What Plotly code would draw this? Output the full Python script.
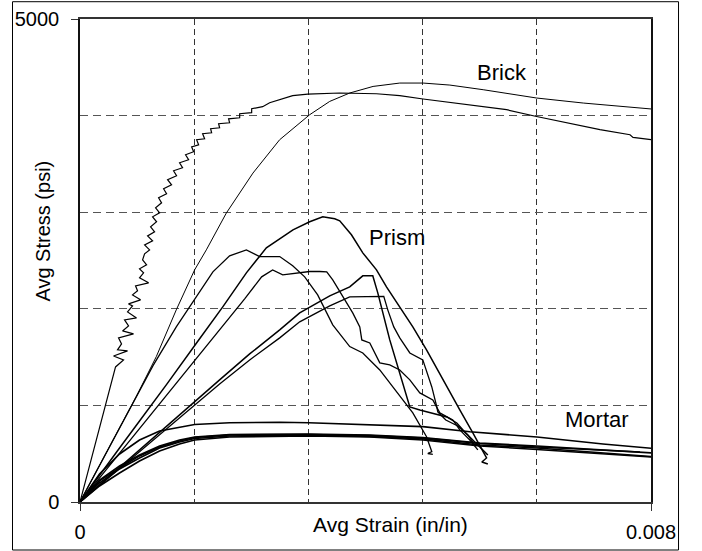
import plotly.graph_objects as go

# strain values are in units of 1e-3 in/in, stress in psi
brick1_strain = [0, 0.498, 0.610, 0.470, 0.666, 0.526, 0.582, 0.540, 0.750, 0.596, 0.680, 0.624, 0.792, 0.666,
                 0.736, 0.680, 0.848, 0.736, 0.806, 0.778, 0.961, 0.834, 0.891, 0.834, 0.933, 0.877, 0.905, 0.975,
                 0.905, 1.017, 0.947, 1.045, 0.989, 1.073, 1.017, 1.115, 1.059, 1.143, 1.101, 1.213, 1.171, 1.283,
                 1.227, 1.353, 1.311, 1.437, 1.395, 1.522, 1.479, 1.592, 1.564, 1.662, 1.634, 1.746, 1.718, 1.844,
                 1.830, 1.956, 1.942, 2.096, 2.082, 2.237, 2.237, 2.405, 2.405, 2.559, 2.657, 2.798, 2.980, 3.190,
                 3.639, 4.154, 4.480, 4.807, 5.182, 5.648, 5.977, 6.397, 6.818, 7.285, 7.706, 7.748, 8.010]
brick1_stress = [0, 1398, 1471, 1512, 1564, 1575, 1637, 1699, 1740, 1771, 1823, 1885, 1906, 1968,
                 2030, 2051, 2093, 2144, 2186, 2238, 2269, 2320, 2372, 2414, 2455, 2507, 2569, 2610,
                 2662, 2704, 2755, 2797, 2849, 2901, 2952, 2994, 3046, 3097, 3149, 3191, 3242, 3284,
                 3336, 3377, 3429, 3460, 3512, 3543, 3595, 3626, 3677, 3698, 3750, 3760, 3812, 3822,
                 3864, 3874, 3916, 3926, 3967, 3978, 4019, 4030, 4071, 4092, 4133, 4164, 4206, 4223,
                 4234, 4226, 4206, 4172, 4136, 4095, 4061, 3991, 3923, 3854, 3802, 3774, 3750]

brick2_strain = [0, 0.788, 1.069, 1.349, 1.606, 1.770, 2.050, 2.423, 2.797, 3.218, 3.499, 3.779, 4.106, 4.480,
                 4.807, 5.182, 5.649, 6.398, 7.051, 8.010]
brick2_stress = [0, 1091, 1505, 1989, 2403, 2610, 2991, 3405, 3750, 4009, 4147, 4234, 4302, 4337,
                 4337, 4316, 4268, 4182, 4130, 4068]

prismA_strain = [0, 0.273, 0.554, 0.834, 1.209, 1.630, 2.003, 2.331, 2.611, 2.984, 3.218, 3.401, 3.569, 3.639,
                 3.803, 3.962, 4.154, 4.294, 4.480, 4.663, 4.855, 5.083, 5.321, 5.504, 5.696, 5.630, 5.714]
prismA_stress = [0, 280, 559, 839, 1212, 1644, 2023, 2372, 2631, 2818, 2901, 2952, 2932, 2911,
                 2766, 2579, 2403, 2227, 2020, 1813, 1575, 1264, 953, 715, 456, 414, 394]

prismB_strain = [0, 0.273, 0.460, 0.740, 1.021, 1.349, 1.630, 1.862, 2.096, 2.331, 2.517, 2.798, 2.980, 3.148,
                 3.330, 3.541, 3.779, 3.962, 4.200, 4.382, 4.663, 4.855, 4.929, 4.873, 4.943]
prismB_stress = [0, 373, 642, 1026, 1409, 1813, 2124, 2383, 2548, 2610, 2541, 2541, 2445, 2331,
                 2144, 1834, 1609, 1543, 1367, 1194, 922, 676, 521, 502, 492]

prismD_strain = [0, 0.273, 0.694, 1.115, 1.536, 1.956, 2.307, 2.545, 2.699, 2.840, 3.078, 3.218, 3.359, 3.457,
                 3.541, 3.681, 3.821, 3.920, 3.948, 4.060, 4.200, 4.340, 4.480, 4.621, 4.761, 4.943, 5.041,
                 5.223, 5.321, 5.462, 5.574]
prismD_stress = [0, 249, 632, 1015, 1398, 1782, 2103, 2331, 2403, 2352, 2372, 2386, 2386, 2383,
                 2300, 2124, 1958, 1813, 1678, 1647, 1440, 1419, 1367, 1264, 1129, 1057, 922,
                 849, 746, 642, 539]

prismE_strain = [0, 0.414, 0.834, 1.255, 1.606, 1.956, 2.377, 2.798, 3.078, 3.499, 3.779, 3.962, 4.102, 4.172,
                 4.340, 4.480, 4.621, 4.761, 5.139, 5.279, 5.391, 5.602, 5.714]
prismE_stress = [0, 269, 539, 808, 1036, 1264, 1533, 1782, 1958, 2134, 2227, 2341, 2341, 2165,
                 1678, 1336, 984, 953, 881, 818, 725, 570, 487]

prismF_strain = [0, 0.414, 0.834, 1.255, 1.606, 1.956, 2.377, 2.798, 3.078, 3.499, 3.779, 4.060, 4.256, 4.312,
                 4.396, 4.480, 4.621, 4.803, 4.859, 4.929, 4.999, 5.013, 5.125, 5.293, 5.434, 5.532]
prismF_stress = [0, 259, 518, 787, 1005, 1222, 1471, 1699, 1865, 2030, 2124, 2129, 2129, 1989,
                 1813, 1699, 1543, 1471, 1336, 1191, 984, 932, 849, 787, 694, 590]

mortar1_strain = [0, 0.273, 0.554, 0.834, 1.115, 1.395, 1.606, 2.096, 2.798, 3.204, 3.737, 4.200, 4.803, 5.462,
                  6.402, 7.327, 8.010]
mortar1_stress = [0, 290, 497, 642, 735, 777, 803, 821, 826, 821, 808, 798, 780, 728, 673, 601, 556]

mortar2_strain = [0, 0.273, 0.554, 0.834, 1.115, 1.395, 1.606, 2.096, 3.204, 4.060, 4.803, 5.602, 6.402, 7.327, 8.010]
mortar2_stress = [0, 228, 373, 487, 580, 642, 673, 699, 704, 694, 668, 611, 580, 539, 508]

mortar3_strain = [0, 0.273, 0.554, 0.834, 1.115, 1.395, 1.606, 2.096, 3.204, 4.060, 4.803, 5.602, 6.402, 7.327, 8.010]
mortar3_stress = [0, 197, 342, 456, 559, 622, 658, 684, 694, 679, 653, 590, 559, 508, 471]

mortar4_strain = [0, 0.273, 0.554, 0.834, 1.115, 1.395, 1.606, 2.096, 3.204, 4.060, 4.803, 5.602, 6.402, 7.327, 8.010]
mortar4_stress = [0, 166, 300, 425, 528, 601, 642, 673, 684, 673, 642, 580, 544, 497, 466]

mortar5_strain = [0, 0.273, 0.554, 0.834, 1.115, 1.395, 1.606, 2.096, 3.204, 4.060, 4.803, 5.602, 6.402, 7.327, 7.846]
mortar5_stress = [0, 218, 352, 477, 570, 632, 668, 694, 699, 689, 663, 606, 570, 533, 518]

series = [
    (brick1_strain, brick1_stress, 1.2),
    (brick2_strain, brick2_stress, 1.0),
    (prismA_strain, prismA_stress, 1.5),
    (prismB_strain, prismB_stress, 1.3),
    (prismD_strain, prismD_stress, 1.3),
    (prismE_strain, prismE_stress, 1.5),
    (prismF_strain, prismF_stress, 1.3),
    (mortar1_strain, mortar1_stress, 1.6),
    (mortar2_strain, mortar2_stress, 1.6),
    (mortar3_strain, mortar3_stress, 1.6),
    (mortar4_strain, mortar4_stress, 1.6),
    (mortar5_strain, mortar5_stress, 1.6),
]

x_ticks = [0, 0.008]
x_tick_text = ["0", "0.008"]
y_ticks = [0, 5000]
y_tick_text = ["0", "5000"]
x_grid = [0.0016, 0.0032, 0.0048, 0.0064]
y_grid = [1000, 2000, 3000, 4000]

labels = [("Brick", 5.911e-3, 4444), ("Prism", 4.438e-3, 2735), ("Mortar", 7.243e-3, 849)]

FONT = "Liberation Sans, Arial, sans-serif"

fig = go.Figure()
for sx, sy, w in series:
    fig.add_trace(go.Scatter(
        x=[v * 1e-3 for v in sx], y=sy, mode="lines",
        line=dict(color="black", width=w), showlegend=False, hoverinfo="skip"))

for text, lx, ly in labels:
    fig.add_annotation(x=lx, y=ly, text=text, showarrow=False, xanchor="center", yanchor="middle",
                       font=dict(family=FONT, size=22, color="black"))

fig.add_annotation(xref="paper", yref="paper", x=0.544, y=-0.0456, text="Avg Strain (in/in)",
                   xanchor="center", yanchor="middle",
                   showarrow=False, font=dict(family=FONT, size=21, color="black"))
fig.add_annotation(xref="paper", yref="paper", x=-0.0665, y=0.56, text="Avg Stress (psi)",
                   xanchor="center", yanchor="middle",
                   textangle=-90, showarrow=False, font=dict(family=FONT, size=20, color="black"))

# outer frame
fig.add_shape(type="rect", xref="paper", yref="paper", x0=-0.1182, x1=1.0482, y0=-0.0994, y1=1.0358,
              line=dict(color="black", width=1), fillcolor="rgba(0,0,0,0)", layer="below")

fig.update_layout(
    width=702, height=551,
    margin=dict(l=80, r=51, t=19, b=49, autoexpand=False),
    paper_bgcolor="white", plot_bgcolor="white",
    font=dict(family=FONT, size=20, color="black"),
    xaxis=dict(range=[0, 0.008], tickvals=x_ticks, ticktext=x_tick_text, ticks="outside", ticklen=7,
               tickcolor="#333", showgrid=False, zeroline=False, showline=True, linecolor="#333",
               linewidth=2, mirror=True, ticklabelstandoff=4, automargin=False,
               minor=dict(tickvals=x_grid, showgrid=True, gridcolor="#333", griddash="6px,4px",
                          gridwidth=1, ticks="")),
    yaxis=dict(range=[0, 5000], tickvals=y_ticks, ticktext=y_tick_text, ticks="outside", ticklen=7,
               tickcolor="#333", showgrid=False, zeroline=False, showline=True, linecolor="#111",
               linewidth=1.5, mirror=True, ticklabelstandoff=8, automargin=False,
               minor=dict(tickvals=y_grid, showgrid=True, gridcolor="#555", griddash="8px,5px",
                          gridwidth=1, ticks="")),
)

fig.write_html("out.html")
